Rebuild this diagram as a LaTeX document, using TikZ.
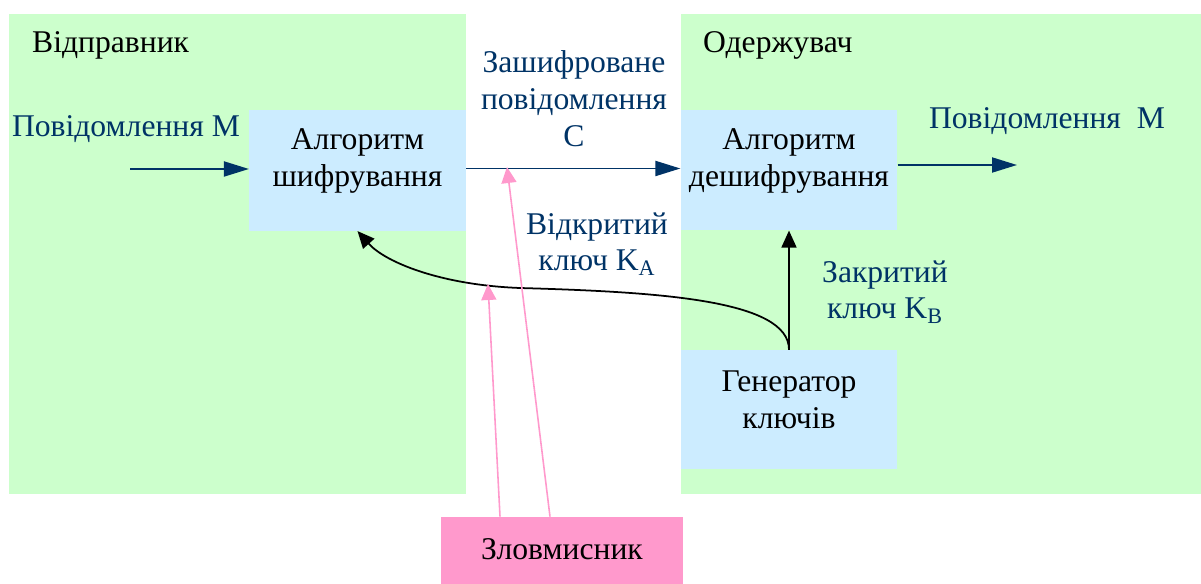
\documentclass[tikz,border=0pt]{standalone}
\usepackage{fontspec}
\newfontfamily\diagfont{Liberation Serif}
\usetikzlibrary{arrows.meta}
\definecolor{panelgreen}{HTML}{CCFFCC}
\definecolor{boxblue}{HTML}{CCECFF}
\definecolor{thiefpink}{HTML}{FF99CC}
\definecolor{msgblue}{HTML}{003366}

\begin{document}
\begin{tikzpicture}[x=0.02cm,y=-0.02cm,
  box/.style={fill=boxblue,inner sep=0pt,minimum width=4.33cm,minimum height=2.41cm},
  txt/.style={align=center,font=\diagfont\fontsize{18}{21}\selectfont},
  msgtxt/.style={txt,text=msgblue},
  msg/.style={draw=msgblue,line width=1.1pt,-{Triangle[length=0.5cm,width=0.3cm]}},
  key/.style={draw=black,line width=1pt,-{Triangle[length=0.34cm,width=0.3cm]}},
  spy/.style={draw=thiefpink,line width=0.9pt,-{Triangle[length=0.32cm,width=0.3cm]}}]
\useasboundingbox (0,0) rectangle (1201,584);
% sender and receiver areas
\fill[panelgreen] (9,14) rectangle (466,494);
\fill[panelgreen] (681,14) rectangle (1201,494);
\node[txt,anchor=west] (sendname) at (26,45) {Відправник};
\node[txt,anchor=west] (recvname) at (697,45) {Одержувач};
% boxes
\node[box] (enc) at (357.5,170.5) {};
\node[txt] (enctxt) at (357.5,161) {Алгоритм\\шифрування};
\node[box] (dec) at (789,170) {};
\node[txt] (dectxt) at (789,161) {Алгоритм\\дешифрування};
\node[box,minimum height=2.38cm] (gen) at (789,409.5) {};
\node[txt] (gentxt) at (789,400) {Генератор\\ключів};
\node[fill=thiefpink,inner sep=0pt,minimum width=4.84cm,minimum height=1.34cm] (thief) at (562,550.5) {};
\node[txt] (thieftxt) at (562,549) {Зловмисник};
% message labels
\node[msgtxt] (min) at (126,129) {Повідомлення М};
\node[msgtxt] (mout) at (1047,121) {Повідомлення\ \ М};
\node[msgtxt] (cipher) at (574,99) {Зашифроване\\повідомлення\\С};
\node[msgtxt] (pubkey) at (597,244) {Відкритий\\ключ K\textsubscript{A}};
\node[msgtxt] (privkey) at (885,292) {Закритий\\ключ K\textsubscript{B}};
% arrows
\coordinate (instart) at (130,169);
\coordinate (outend) at (1017,165);
\coordinate (tapK) at (488,284);
\coordinate (tapC) at (507,167);
\draw[msg] (instart) -- (instart -| enc.west);
\draw[msg] ([yshift=0.04cm]enc.east) -- ([yshift=0.04cm]enc.east -| dec.west);
\draw[msg] (outend -| dec.east) -- (outend);
\draw[key] (gen.north) -- (dec.south);
\draw[key] (gen.north) .. controls (789,300) and (660,292) .. (520,288)
  .. controls (440,285) and (385,262) .. (enc.south);
\draw[spy] ([xshift=-1.24cm]thief.north) -- (tapK);
\draw[spy] ([xshift=-0.24cm]thief.north) -- (tapC);
\end{tikzpicture}
\end{document}
